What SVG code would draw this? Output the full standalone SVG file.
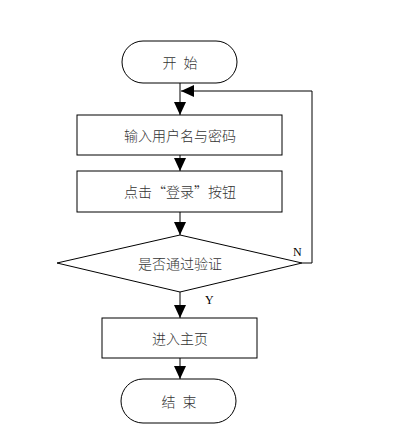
<svg xmlns="http://www.w3.org/2000/svg" width="398" height="439" viewBox="0 0 398 439">
<style>
.s{fill:#fff;stroke:#000;stroke-width:1}
.t{font-family:"Noto Sans CJK SC","Liberation Sans",sans-serif;font-size:14px;font-weight:300;fill:#333;text-anchor:middle;dominant-baseline:central}
.w{letter-spacing:2px}
.l{font-family:"Liberation Serif",serif;font-size:12px;fill:#000}
.c{fill:none;stroke:#000;stroke-width:1}
</style>
<defs>
<marker id="a" viewBox="0 0 13 12" refX="13" refY="6" markerWidth="13" markerHeight="12" markerUnits="userSpaceOnUse" orient="auto">
<path d="M0,0 L13,6 L0,12 Z" fill="#000"/>
</marker>
</defs>
<rect width="398" height="439" fill="#fff"/>
<g id="connectors">
<line class="c" x1="180" y1="83" x2="180" y2="115" marker-end="url(#a)"/>
<line class="c" x1="180" y1="155" x2="180" y2="171" marker-end="url(#a)"/>
<line class="c" x1="180" y1="212" x2="180" y2="235" marker-end="url(#a)"/>
<line class="c" x1="180" y1="292" x2="180" y2="318" marker-end="url(#a)"/>
<line class="c" x1="180" y1="358" x2="180" y2="379" marker-end="url(#a)"/>
<polyline class="c" points="302,263 312,263 312,91 181,91" marker-end="url(#a)"/>
<text class="l" x="293" y="256">N</text>
<text class="l" x="205" y="304">Y</text>
</g>
<g id="start"><rect class="s" x="122" y="41" width="115" height="42" rx="21"/><text class="t w" x="181" y="62">开 始</text></g>
<g id="input"><rect class="s" x="77" y="115" width="205" height="40"/><text class="t" x="180" y="135">输入用户名与密码</text></g>
<g id="login"><rect class="s" x="77" y="171" width="205" height="41"/><text class="t" x="180" y="191">点击“登录”按钮</text></g>
<g id="verify"><polygon class="s" points="180,235 302,263 180,292 57,263"/><text class="t" x="180" y="263">是否通过验证</text></g>
<g id="home"><rect class="s" x="102" y="318" width="155" height="40"/><text class="t" x="180" y="338">进入主页</text></g>
<g id="end"><rect class="s" x="121" y="379" width="115" height="44" rx="22"/><text class="t w" x="180" y="401">结 束</text></g>
</svg>
